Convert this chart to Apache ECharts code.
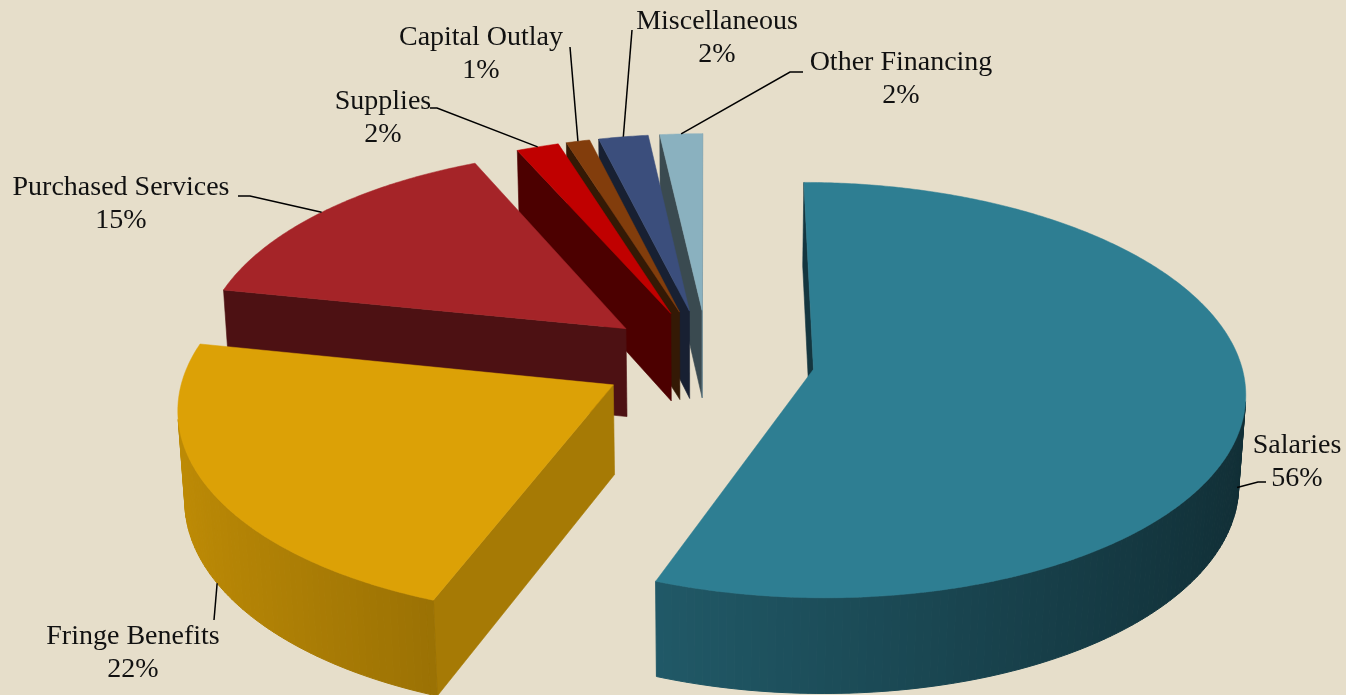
<!DOCTYPE html>
<html>
<head>
<meta charset="utf-8">
<script src="https://cdn.jsdelivr.net/npm/echarts@6/dist/echarts.min.js"></script>
<style>
html,body{margin:0;padding:0;background:#E6DECA;}
#chart{width:1346px;height:695px;}
</style>
</head>
<body>
<div id="chart"></div>
<script>
// ---- data ----
const categories = ['Salaries', 'Fringe Benefits', 'Purchased Services', 'Supplies', 'Capital Outlay', 'Miscellaneous', 'Other Financing'];
const values = [55.8, 22.4, 15.1, 1.8, 1.0, 2.1, 1.8];

// ---- styles / layout (not data) ----
const sliceColors = ['#2E7E92', '#DCA106', '#A52428', '#C00000', '#823D0C', '#3B4E7C', '#8AB1BF'];
const labelCenters = [[1297, 462], [133, 653], [121, 204], [383, 118], [481, 54], [717, 38], [901, 79]];
const leaderEnds = [[1266, 482], [214, 620], [238, 196], [430, 108], [570, 47], [632, 30], [803, 72]];
const leaderTails = [8, 0, 12, 7, 0, 0, 13];
const anchorSpec = [[0.52, 0.72], [0.5, 1.0], [0.5, 0], [0.5, 0], [0.5, 0], [0.5, 0], [0.5, 0]];
const G = { cxf: 708 / 1346, cyf: 360 / 695, S: 427, phi: 28.5, D: 8.8, t: 0.24, e: 0.25 };

const total = values.reduce((a, b) => a + b, 0);
const starts = [];
(function () { let acc = 0; values.forEach(v => { starts.push(acc / total * 360); acc += v; }); })();
const spanOf = i => values[i] / total * 360;
const rad = d => d * Math.PI / 180;
const sinP = Math.sin(rad(G.phi)), cosP = Math.cos(rad(G.phi));
const camV = -G.D * cosP;

function projector(W, H) {
  const cx = W * G.cxf, cy = H * G.cyf;
  return (u, v, Y) => {
    const yc = Y * cosP + v * sinP;
    const zc = -Y * sinP + v * cosP;
    const s = G.D / (G.D + zc);
    return [cx + G.S * u * s, cy - G.S * yc * s];
  };
}
function offsetOf(i) {
  const m = rad(starts[i] + spanOf(i) / 2);
  return [G.e * Math.sin(m), G.e * Math.cos(m)];
}
function rimPt(i, deg, r) {
  const o = offsetOf(i), a = rad(deg);
  return [o[0] + r * Math.sin(a), o[1] + r * Math.cos(a)];
}
function facing(nu, nv, pu, pv) { return nu * (0 - pu) + nv * (camV - pv) > 0; }
function shade(hex, f) {
  const n = parseInt(hex.slice(1), 16);
  const r = (n >> 16) & 255, g = (n >> 8) & 255, b = n & 255;
  const c = x => Math.max(0, Math.min(255, Math.round(x * f)));
  return 'rgb(' + c(r) + ',' + c(g) + ',' + c(b) + ')';
}
// painter's order: farther slices first
const order = values.map((_, i) => i).sort((a, b) =>
  rimPt(b, starts[b] + spanOf(b) / 2, 0.6)[1] - rimPt(a, starts[a] + spanOf(a) / 2, 0.6)[1]);
const rank = []; order.forEach((idx, r) => { rank[idx] = r; });

function renderItem(params, api) {
  const i = params.dataIndex;
  const P = projector(api.getWidth(), api.getHeight());
  const a0 = starts[i];
  const a1 = a0 + api.value(1) / total * 360;
  const base = sliceColors[i];
  const o = offsetOf(i);
  const z0 = rank[i] * 100;
  const children = [];
  const apexT = P(o[0], o[1], 0), apexB = P(o[0], o[1], -G.t);

  // radial walls
  [[a0, -1], [a1, 1]].forEach(([d, sg]) => {
    const a = rad(d);
    const nu = sg * Math.cos(a), nv = -sg * Math.sin(a);
    const rp = rimPt(i, d, 1);
    const mid = [(o[0] + rp[0]) / 2, (o[1] + rp[1]) / 2];
    if (!facing(nu, nv, mid[0], mid[1])) return;
    const col = shade(base, 0.62 + 0.19 * nu + 0.12 * nv);
    children.push({
      type: 'polygon', z2: z0 + 1,
      shape: { points: [apexT, P(rp[0], rp[1], 0), P(rp[0], rp[1], -G.t), apexB] },
      style: { fill: col, stroke: col, lineWidth: 0.6 }
    });
  });

  // outer curved wall
  const n = Math.max(2, Math.ceil((a1 - a0) / 1));
  for (let k = 0; k < n; k++) {
    const d0 = a0 + (a1 - a0) * k / n, d1 = a0 + (a1 - a0) * (k + 1) / n, dm = (d0 + d1) / 2;
    const nu = Math.sin(rad(dm)), nv = Math.cos(rad(dm));
    const pm = rimPt(i, dm, 1);
    if (!facing(nu, nv, pm[0], pm[1])) continue;
    const col = shade(base, 0.615 - 0.25 * nu);
    const p0 = rimPt(i, d0, 1), p1 = rimPt(i, d1, 1);
    children.push({
      type: 'polygon', z2: z0 + 2,
      shape: { points: [P(p0[0], p0[1], 0), P(p1[0], p1[1], 0), P(p1[0], p1[1], -G.t), P(p0[0], p0[1], -G.t)] },
      style: { fill: col, stroke: col, lineWidth: 1 }
    });
  }

  // top face
  const pts = [apexT];
  const m = Math.max(2, Math.ceil((a1 - a0) / 0.5));
  for (let k = 0; k <= m; k++) {
    const rp = rimPt(i, a0 + (a1 - a0) * k / m, 1);
    pts.push(P(rp[0], rp[1], 0));
  }
  children.push({
    type: 'polygon', z2: z0 + 3,
    shape: { points: pts },
    style: { fill: base, stroke: base, lineWidth: 0.5 }
  });

  // leader line + label
  const spec = anchorSpec[i];
  const ra = rimPt(i, a0 + spec[0] * (a1 - a0), 1);
  const anchor = P(ra[0], ra[1], -spec[1] * G.t);
  const end = leaderEnds[i];
  const tail = leaderTails[i];
  const lpts = [anchor];
  if (tail > 0) lpts.push([end[0] + Math.sign(anchor[0] - end[0]) * tail, end[1]]);
  lpts.push(end);
  children.push({
    type: 'polyline', z2: 10000,
    shape: { points: lpts },
    style: { stroke: '#000', lineWidth: 1.5, fill: null }
  });
  const pct = Math.round(api.value(1) / total * 100) + '%';
  children.push({
    type: 'text', z2: 10001,
    style: {
      text: categories[i] + '\n' + pct,
      x: labelCenters[i][0], y: labelCenters[i][1],
      font: '28px "Liberation Serif"',
      fill: '#111', align: 'center', verticalAlign: 'middle', lineHeight: 33
    }
  });
  return { type: 'group', children };
}

const chart = echarts.init(document.getElementById('chart'), null, { renderer: 'canvas' });
chart.setOption({
  backgroundColor: '#E6DECA',
  animation: false,
  series: [{
    type: 'custom',
    coordinateSystem: 'none',
    silent: true,
    renderItem: renderItem,
    data: values.map((v, i) => ({ name: categories[i], value: [i, v] }))
  }]
});
</script>
</body>
</html>
